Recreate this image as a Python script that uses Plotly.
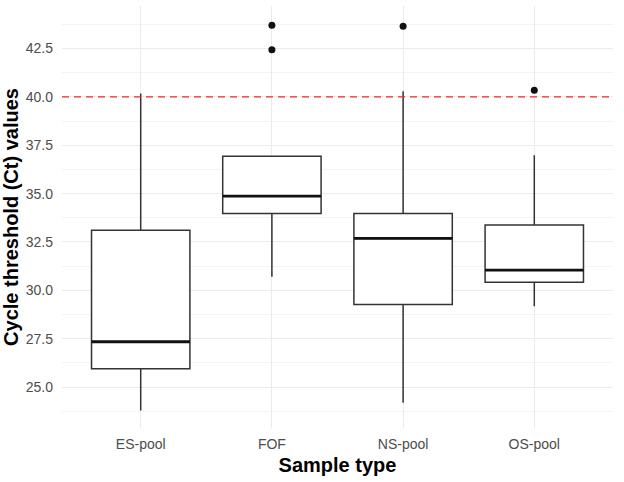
import plotly.graph_objects as go

categories = ["ES-pool", "FOF", "NS-pool", "OS-pool"]
lower_whisker = [23.78, 30.70, 24.19, 29.18]
q1 = [25.95, 33.97, 29.27, 30.41]
median = [27.34, 34.87, 32.68, 31.04]
q3 = [33.11, 36.93, 33.97, 33.38]
upper_whisker = [40.17, 36.93, 40.29, 36.98]
outlier_cat = ["FOF", "FOF", "NS-pool", "OS-pool"]
outlier_val = [43.71, 42.44, 43.65, 40.34]
threshold = 40.0
y_ticks = [25.0, 27.5, 30.0, 32.5, 35.0, 37.5, 40.0, 42.5]

pos = list(range(len(categories)))
box_w = 0.75
line_col = "#333333"

fig = go.Figure()
fig.add_trace(go.Box(
    x=pos, q1=q1, median=median, q3=q3,
    lowerfence=lower_whisker, upperfence=upper_whisker,
    width=box_w, whiskerwidth=0, fillcolor="white",
    line=dict(color=line_col, width=1.5), showlegend=False,
    hoverinfo="skip"
))
# thicker median lines
for i, m in enumerate(median):
    fig.add_trace(go.Scatter(
        x=[pos[i] - box_w / 2, pos[i] + box_w / 2], y=[m, m],
        mode="lines", line=dict(color="#111111", width=2.8),
        showlegend=False, hoverinfo="skip"
    ))
fig.add_trace(go.Scatter(
    x=[categories.index(c) for c in outlier_cat], y=outlier_val,
    mode="markers", marker=dict(color="#111111", size=7),
    showlegend=False
))
fig.add_hline(y=threshold, line=dict(color="#EE2A2A", width=1.4, dash="7px,5px"))

fig.update_layout(
    width=624, height=482,
    margin=dict(l=62, r=11, t=6, b=54),
    paper_bgcolor="white", plot_bgcolor="white",
    font=dict(family="Arial", color="#4D4D4D", size=14),
)
fig.update_xaxes(
    range=[-0.6, 3.6], tickvals=pos, ticktext=categories,
    showgrid=True, gridcolor="#EBEBEB", gridwidth=1.2,
    zeroline=False, showline=False, ticks="", automargin=False,
    ticklabelstandoff=6,
    tickfont=dict(size=14, color="#4D4D4D"),
    title=dict(text="<b>Sample type</b>", font=dict(size=20, color="black"), standoff=6),
)
fig.update_yaxes(
    range=[22.88, 44.70], tickvals=y_ticks,
    ticktext=[f"{v:.1f}" for v in y_ticks],
    showgrid=True, gridcolor="#EBEBEB", gridwidth=1.2,
    minor=dict(dtick=1.25, tick0=0, showgrid=True, gridcolor="#F3F3F3", gridwidth=0.8),
    zeroline=False, showline=False, ticks="", automargin=False,
    ticklabelstandoff=8,
    tickfont=dict(size=14, color="#4D4D4D"),
    title=dict(text="<b>Cycle threshold (Ct) values</b>", font=dict(size=20, color="black"), standoff=1),
)
fig.write_html("out.html", config={"displayModeBar": False},
               post_script="document.body.style.margin='0px';")
